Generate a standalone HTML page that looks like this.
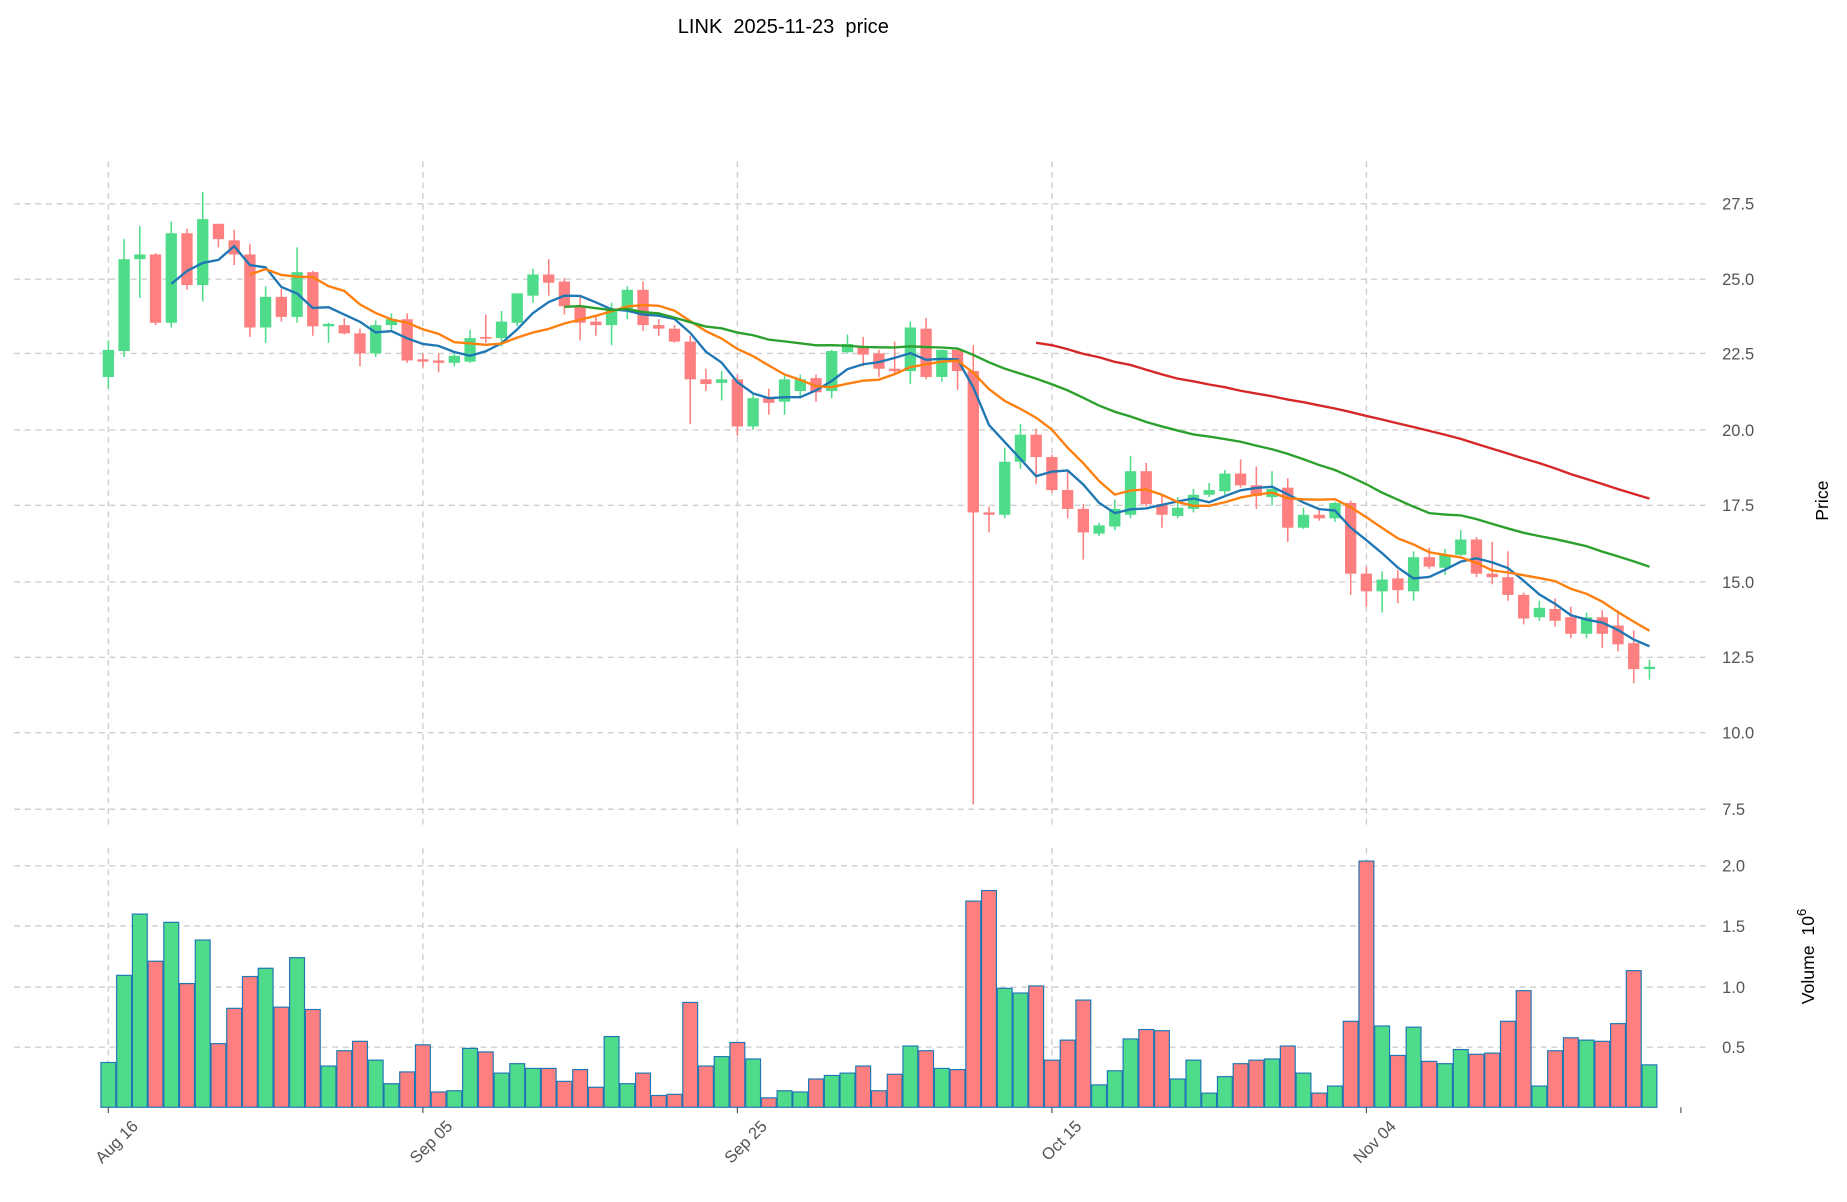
<!DOCTYPE html>
<html><head><meta charset="utf-8"><style>
html,body{margin:0;padding:0;background:#fff;}
svg{display:block;font-family:"Liberation Sans","DejaVu Sans",sans-serif;}
</style></head><body>
<svg id="s" width="1847" height="1202" viewBox="0 0 1568 1020.4" xmlns="http://www.w3.org/2000/svg">
<rect width="1568" height="1021" fill="#fff"/>
<text x="665" y="28" font-size="17" text-anchor="middle" fill="#000">LINK&#160;&#160;2025-11-23&#160;&#160;price</text>
<g id="grid" stroke="#cfcfcf" stroke-width="1.2" stroke-dasharray="5,4"></g>
<g id="vol"></g>
<g id="cand"></g>
<g id="ma" fill="none" stroke-width="2"></g>
<g font-size="14" fill="#555">
<text x="1462" y="178">27.5</text>
<text x="1462" y="242">25.0</text>
<text x="1462" y="305">22.5</text>
<text x="1462" y="370">20.0</text>
<text x="1462" y="434">17.5</text>
<text x="1462" y="499">15.0</text>
<text x="1462" y="563">12.5</text>
<text x="1462" y="627">10.0</text>
<text x="1462" y="692">7.5</text>
<text x="1462" y="740">2.0</text>
<text x="1462" y="791">1.5</text>
<text x="1462" y="843">1.0</text>
<text x="1462" y="894">0.5</text>
</g>
<text transform="translate(1552,425) rotate(-90)" font-size="15" text-anchor="middle" fill="#000">Price</text>
<text transform="translate(1540,812) rotate(-90)" font-size="15" text-anchor="middle" fill="#000">Volume&#160;&#160;10<tspan dy="-7" font-size="11">6</tspan></text>
<g font-size="14" fill="#555" text-anchor="end">
<text transform="translate(118,957) rotate(-45)">Aug 16</text>
<text transform="translate(385,957) rotate(-45)">Sep 05</text>
<text transform="translate(652,957) rotate(-45)">Sep 25</text>
<text transform="translate(919,957) rotate(-45)">Oct 15</text>
<text transform="translate(1186,957) rotate(-45)">Nov 04</text>
</g>
</svg>
<script>
var C=[
['G',320,297,289,330],['G',298,220,203,303],['G',220,216,192,253],['R',216,274,215,276],['G',274,198,188,278],
['R',198,242,194,246],['G',242,186,163,256],['R',190,203,190,210],['R',204,216,195,225],['R',216,278,207,286],
['G',278,252,243,291],['R',252,269,245,273],['G',269,231,210,274],['R',231,277,230,285],['G',277,275,274,291],
['R',276,283,270,284],['R',283,300,279,311],['G',300,276,272,303],['G',276,271,266,280],['R',271,306,266,308],
['R',305,307,300,312],['R',306,308,300,316],['G',308,302,300,311],['G',307,287,280,308],['R',286,287,267,291],
['G',287,273,264,294],['G',274,249,249,277],['G',251,233,228,257],['R',233,240,220,251],['R',239,260,236,267],
['R',260,274,252,289],['R',273,276,268,285],['G',276,263,257,293],['G',262,246,243,271],['R',246,276,239,281],
['R',276,279,271,285],['R',279,290,276,291],['R',290,322,285,360],['R',322,326,313,332],['G',325,322,315,340],
['R',322,362,318,370],['G',362,338,335,365],['R',338,342,330,352],['G',341,322,318,352],['G',332,322,318,338],
['R',321,333,318,341],['G',332,298,297,338],['G',299,292,284,300],['R',294,301,286,311],['R',300,313,297,320],
['R',313,315,290,317],['G',315,278,273,326],['R',279,320,270,322],['G',320,297,297,324],['R',297,315,296,331],
['R',315,435,293,683],['R',435,437,430,452],['G',437,392,380,440],['G',392,369,360,398],['R',369,388,364,411],
['R',388,416,386,418],['R',416,432,400,440],['R',432,452,428,475],['G',453,446,444,455],['G',447,432,424,450],
['G',437,400,387,440],['R',400,428,393,430],['R',428,437,420,448],['G',438,431,422,440],['G',432,420,415,435],
['G',420,416,410,422],['G',417,402,399,420],['R',402,412,390,414],['R',412,421,396,432],['G',422,415,400,429],
['R',414,448,406,460],['G',448,437,431,449],['R',437,440,432,442],['G',440,427,426,443],['R',427,487,425,505],
['R',487,502,481,515],['G',502,492,485,520],['R',491,501,484,512],['G',502,473,468,510],['R',473,481,465,483],
['G',482,471,466,488],['G',471,458,450,472],['R',458,487,456,490],['R',487,490,460,496],['R',490,505,468,510],
['R',505,525,503,530],['G',524,516,510,527],['R',517,527,508,532],['R',524,538,515,542],['G',538,524,520,542],
['R',524,538,518,550],['R',531,547,518,553],['R',546,568,535,580],['G',568,566,560,577]];
var V=[902,828,776,816,783,835,798,886,856,829,822,855,813,857,905,892,884,900,920,910,887,927,926,890,893,911,903,907,907,918,908,923,880,920,911,930,929,851,905,897,885,899,932,926,927,916,913,911,905,926,912,888,892,907,908,765,756,839,843,837,900,883,849,921,909,882,874,875,916,900,928,914,903,900,899,888,911,928,922,867,731,871,896,872,901,903,891,895,894,867,841,922,892,881,883,884,869,824,904];
var NS="http://www.w3.org/2000/svg";
function el(p,t,a){var e=document.createElementNS(NS,t);for(var k in a)e.setAttribute(k,a[k]);p.appendChild(e);return e;}
var X=function(i){return 92+i*13.35;};
var gr=document.getElementById('grid');
[173,237,300,365,429,494,558,622,687].forEach(function(y){el(gr,'line',{x1:12,x2:1452,y1:y,y2:y});});
[735,786,838,889].forEach(function(y){el(gr,'line',{x1:12,x2:1452,y1:y,y2:y});});
[92,359,626,893,1160].forEach(function(x){el(gr,'line',{x1:x,x2:x,y1:137,y2:700});el(gr,'line',{x1:x,x2:x,y1:720,y2:940});});
[92,359,626,893,1160,1427].forEach(function(x){el(document.getElementById('s'),'line',{x1:x,x2:x,y1:940,y2:945,stroke:'#555'});});
var GC='#4fdc8a',RC='#fd7f7f';
var vg=document.getElementById('vol'),cg=document.getElementById('cand');
for(var i=0;i<C.length;i++){var c=C[i],x=X(i),col=c[0]=='G'?GC:RC;
el(vg,'rect',{x:x-6.3,y:V[i],width:12.6,height:940-V[i],fill:col,stroke:'#1f77b4','stroke-width':1});
el(cg,'line',{x1:x,x2:x,y1:c[3],y2:c[4],stroke:col,'stroke-width':1.3});
var t=Math.min(c[1],c[2]),b=Math.max(c[1],c[2]);if(b-t<1.5)b=t+1.5;
el(cg,'rect',{x:x-4.8,y:t,width:9.6,height:b-t,fill:col});}
var mg=document.getElementById('ma');
[[5,'#1f77b4'],[10,'#ff7f0e'],[30,'#2ca02c'],[60,'#d62728']].forEach(function(m){var n=m[0],pts=[];
for(var i=n-1;i<C.length;i++){var s=0;for(var j=i-n+1;j<=i;j++)s+=C[j][2];pts.push(X(i).toFixed(1)+','+(s/n).toFixed(1));}
el(mg,'polyline',{points:pts.join(' '),stroke:m[1]});});
</script>
</body></html>
